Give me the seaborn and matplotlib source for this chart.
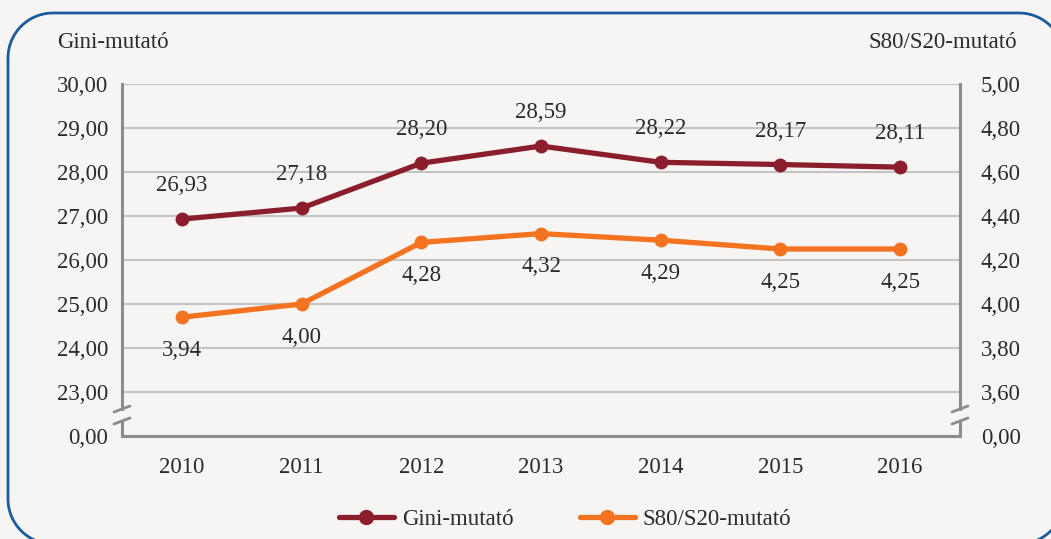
import matplotlib
matplotlib.use("Agg")
import matplotlib.pyplot as plt
import seaborn as sns
import pandas as pd
import numpy as np
from matplotlib.patches import Rectangle
from matplotlib.lines import Line2D

# adatok
years = [2010, 2011, 2012, 2013, 2014, 2015, 2016]
gini = [26.93, 27.18, 28.20, 28.59, 28.22, 28.17, 28.11]
s80s20 = [3.94, 4.00, 4.28, 4.32, 4.29, 4.25, 4.25]

left_ticks = [22, 23, 24, 25, 26, 27, 28, 29, 30]
left_labels = ["0,00", "23,00", "24,00", "25,00", "26,00", "27,00", "28,00", "29,00", "30,00"]
right_ticks = [3.4, 3.6, 3.8, 4.0, 4.2, 4.4, 4.6, 4.8, 5.0]
right_labels = ["0,00", "3,60", "3,80", "4,00", "4,20", "4,40", "4,60", "4,80", "5,00"]

df = pd.DataFrame({"year": years, "gini": gini, "s80": s80s20})

sns.set_style("white")
plt.rcParams["font.family"] = ["Liberation Serif", "DejaVu Serif"]
plt.rcParams["font.size"] = 16.5
plt.rcParams["text.color"] = "#2b2b2b"

bg = "#F6F5F4"
red = "#8B1E2D"
orange = "#F37321"
grid_c = "#C4C4C4"
spine_c = "#8C8C8C"

W, H = 1051, 539
fig = plt.figure(figsize=(W / 100, H / 100), dpi=100)
fig.patch.set_facecolor(bg)

# lekerekitett keret (pixelben, y felfele)
x0, x1, r = 8, 1064, 45
Y0, Y1 = H - 544, H - 13
pts = []
for cx, cy, a0 in [(x1 - r, Y1 - r, 0), (x0 + r, Y1 - r, 90), (x0 + r, Y0 + r, 180), (x1 - r, Y0 + r, 270)]:
    ang = np.radians(np.linspace(a0, a0 + 90, 30))
    pts += [(cx + r * np.cos(t), cy + r * np.sin(t)) for t in ang]
pts.append(pts[0])
bx, by = zip(*pts)
fig.add_artist(Line2D(bx, by, transform=None, color="#1A5B9C", linewidth=2))

ax = fig.add_axes([122 / W, 1 - 436 / H, (960 - 122) / W, (436 - 84) / H])
ax.set_facecolor(bg)
ax2 = ax.twinx()

sns.lineplot(data=df, x="year", y="gini", ax=ax, color=red, linewidth=3.8, marker="o",
             markersize=10, markeredgewidth=0, label="Gini-mutató", legend=False)
sns.lineplot(data=df, x="year", y="s80", ax=ax2, color=orange, linewidth=3.8, marker="o",
             markersize=10, markeredgewidth=0, label="S80/S20-mutató", legend=False)

ax.set_ylim(22, 30)
ax2.set_ylim(3.4, 5.0)
ax.set_xlim(years[0] - 0.5, years[-1] + 0.5)

for t in left_ticks[1:]:
    ax.axhline(t, color=grid_c, linewidth=1.5, zorder=0)

ax.set_yticks(left_ticks)
ax.set_yticklabels(left_labels)
ax2.set_yticks(right_ticks)
ax2.set_yticklabels(right_labels)
ax.set_xticks(years)
ax.set_xticklabels([str(y) for y in years])
ax.set_xticks([y + 0.5 for y in [years[0] - 1] + years], minor=True)

ax.tick_params(axis="y", length=0, pad=10, labelcolor="#2b2b2b")
ax2.tick_params(axis="y", length=0, pad=15, labelcolor="#2b2b2b")
ax.tick_params(axis="x", which="major", length=0, pad=15, labelcolor="#2b2b2b")
ax.tick_params(axis="x", which="minor", length=8, width=2, color=spine_c)

ax.set_xlabel("")
ax.set_ylabel("")
ax2.set_ylabel("")

for a in (ax, ax2):
    for s in a.spines.values():
        s.set_visible(False)
ax.spines["left"].set_visible(True)
ax.spines["bottom"].set_visible(True)
ax2.spines["right"].set_visible(True)
for s in (ax.spines["left"], ax.spines["bottom"], ax2.spines["right"]):
    s.set_color(spine_c)
    s.set_linewidth(2.2)

# adatcimkek
for x, v in zip(years, gini):
    ax.annotate(f"{v:.2f}".replace(".", ","), (x, v), xytext=(0, 24), textcoords="offset points",
                ha="center", va="center")
for x, v in zip(years, s80s20):
    ax2.annotate(f"{v:.2f}".replace(".", ","), (x, v), xytext=(0, -24), textcoords="offset points",
                 ha="center", va="center")

# tengelytores
for xs in (122, 960):
    fig.add_artist(Rectangle((xs - 3, H - 421), 6, 10, transform=None, facecolor=bg, edgecolor="none"))
    for yc in (409, 421):
        fig.add_artist(Line2D([xs - 8, xs + 8], [H - (yc + 3), H - (yc - 3)], transform=None,
                              color=spine_c, linewidth=2))

fig.text(57 / W, 1 - 42 / H, "Gini-mutató", ha="left", va="center")
fig.text(1017 / W, 1 - 42 / H, "S80/S20-mutató", ha="right", va="center")

handles = [Line2D([], [], color=red, linewidth=3.8, marker="o", markersize=10),
           Line2D([], [], color=orange, linewidth=3.8, marker="o", markersize=10)]
fig.legend(handles, ["Gini-mutató", "S80/S20-mutató"], loc="center", bbox_to_anchor=(565 / W, 1 - 519 / H),
           ncol=2, frameon=False, handlelength=2.4, columnspacing=2.9, handletextpad=0.35)

fig.savefig("out.png", dpi=100, facecolor=bg)
